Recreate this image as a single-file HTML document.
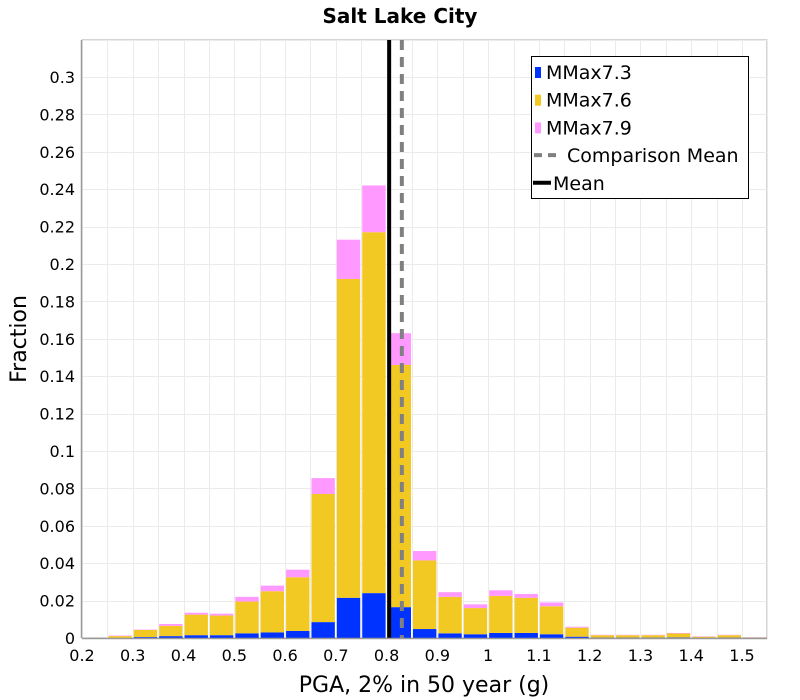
<!DOCTYPE html>
<html><head><meta charset="utf-8"><style>
body{margin:0;background:#fff;}
svg{display:block;font-family:"DejaVu Sans","Liberation Sans",sans-serif;}
</style></head><body>
<svg id="chart" width="800" height="700"></svg>
<script>
const binStarts=[0.25,0.30,0.35,0.40,0.45,0.50,0.55,0.60,0.65,0.70,0.75,0.80,0.85,0.90,0.95,1.00,1.05,1.10,1.15,1.20,1.25,1.30,1.35,1.40,1.45,1.50];
const blueVals=[0,0.0005,0.001,0.0015,0.0015,0.0025,0.003,0.0038,0.0085,0.0215,0.024,0.0165,0.0048,0.0025,0.002,0.0027,0.0027,0.002,0.0007,0.0002,0.0002,0.0002,0.0003,0.0001,0.0002,0.0001];
const yellowVals=[0.001,0.0038,0.0055,0.011,0.0105,0.017,0.022,0.0287,0.0685,0.1705,0.193,0.1295,0.0367,0.0195,0.014,0.0198,0.0188,0.015,0.0048,0.0013,0.0013,0.0013,0.0021,0.0006,0.0013,0.0002];
const pinkVals=[0.0003,0.0002,0.001,0.001,0.001,0.0025,0.003,0.004,0.0085,0.021,0.025,0.017,0.005,0.0025,0.002,0.003,0.002,0.002,0.0005,0.0002,0.0002,0.0002,0.0003,0.0002,0.0002,0.0001];
const xTicks=[0.2,0.3,0.4,0.5,0.6,0.7,0.8,0.9,1,1.1,1.2,1.3,1.4,1.5];
const yTicks=[0,0.02,0.04,0.06,0.08,0.1,0.12,0.14,0.16,0.18,0.2,0.22,0.24,0.26,0.28,0.3];
const meanVal=0.805, compMeanVal=0.83, binWidth=0.05;
const L=82,R=767,T=40,B=638;
const xs=v=>82+(v-0.2)*(660/1.3);
const ys=v=>638-v*(561/0.3);
const svg=document.getElementById('chart');
const NS='http://www.w3.org/2000/svg';
function mk(tag,attrs,parent){const e=document.createElementNS(NS,tag);for(const k in attrs)e.setAttribute(k,attrs[k]);(parent||svg).appendChild(e);return e;}
function fmt(v){return String(+v.toFixed(2));}
// plot bg
const bg=mk('rect',{x:L,y:T,width:R-L,height:B-T,fill:'#fff',stroke:'#aaa'});


// grid
const grid=mk('g',{stroke:'#ebebeb','stroke-width':1});


for(let v=0.2;v<=1.551;v+=0.05){const x=Math.round(xs(v))+0.5;mk('line',{x1:x,x2:x,y1:T,y2:B},grid);}
for(let v=0;v<=0.32;v+=0.02){const y=Math.round(ys(v))+0.5;mk('line',{x1:L,x2:R,y1:y,y2:y},grid);}
// bars
const bars=mk('g',{});


binStarts.forEach((s,i)=>{
  const x0=xs(s)+1,w=xs(s+binWidth)-xs(s)-2;
  let base=0;
  [[blueVals[i],'#0033ff','blue'],[yellowVals[i],'#f2c922','yellow'],[pinkVals[i],'#ff99ff','pink']].forEach(([v,c,n])=>{
    const r=mk('rect',{x:x0,y:ys(base+v),width:w,height:ys(base)-ys(base+v),fill:c},bars);
    
    
    base+=v;
  });
});
// mean lines
const ml=mk('line',{x1:xs(meanVal),x2:xs(meanVal),y1:T,y2:B,stroke:'#000','stroke-width':4});


const cl=mk('line',{x1:xs(compMeanVal),x2:xs(compMeanVal),y1:T,y2:B,stroke:'#808080','stroke-width':4,'stroke-dasharray':'10,7'});


// axes
mk('line',{x1:L,x2:R,y1:B+0.5,y2:B+0.5,stroke:'#999','stroke-width':1.5});
mk('line',{x1:L-0.5,x2:L-0.5,y1:T,y2:B,stroke:'#999','stroke-width':1.5});
xTicks.forEach(v=>{const t=mk('text',{x:xs(v),y:661,'text-anchor':'middle','font-size':16,fill:'#000'});t.textContent=fmt(v);

});
yTicks.forEach(v=>{const t=mk('text',{x:75,y:ys(v)+6,'text-anchor':'end','font-size':16,fill:'#000'});t.textContent=fmt(v);

});
const xt=mk('text',{x:424,y:692,'text-anchor':'middle','font-size':22});xt.textContent='PGA, 2% in 50 year (g)';


const yt=mk('text',{x:26,y:339,'text-anchor':'middle','font-size':22,transform:'rotate(-90 26 339)'});yt.textContent='Fraction';


const tt=mk('text',{x:400,y:23,'text-anchor':'middle','font-size':20,'font-weight':'bold'});tt.textContent='Salt Lake City';


// legend
const lg=mk('g',{});


mk('rect',{x:531.5,y:56.5,width:217,height:142,fill:'#fff',stroke:'#000'},lg);
const items=[['MMax7.3','#0033ff','sq'],['MMax7.6','#f2c922','sq'],['MMax7.9','#ff99ff','sq'],['Comparison Mean','#808080','dash'],['Mean','#000','line']];
items.forEach((it,i)=>{
  const y=72+i*27.7;
  const g=mk('g',{},lg);
  
  
  let tx=546;
  if(it[2]==='sq'){mk('rect',{x:535,y:y-5,width:6,height:11,fill:it[1]},g);}
  else if(it[2]==='dash'){mk('line',{x1:534,x2:562,y1:y,y2:y,stroke:it[1],'stroke-width':4,'stroke-dasharray':'8,6'},g);tx=567;}
  else {mk('line',{x1:533,x2:551,y1:y,y2:y,stroke:it[1],'stroke-width':4},g);tx=553;}
  const t=mk('text',{x:tx,y:y+7,'font-size':19},g);t.textContent=it[0];
});
</script>
</body></html>
